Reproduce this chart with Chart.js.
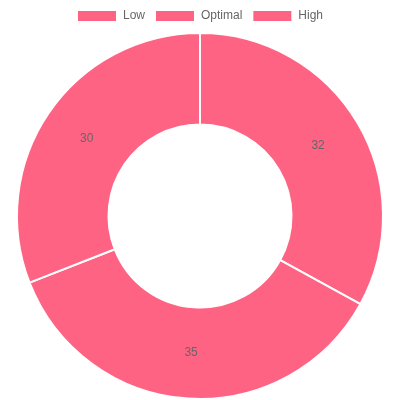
<!DOCTYPE html>
<html>
<head>
<meta charset="utf-8">
<script src="https://cdn.jsdelivr.net/npm/chart.js@4"></script>
<style>
  html, body { margin: 0; padding: 0; background: #fff; }
  #wrap { width: 400px; height: 400px; }
</style>
</head>
<body>
<div id="wrap"><canvas id="c"></canvas></div>
<script>
const categories = ['Low', 'Optimal', 'High'];
const values = [32, 35, 30];
const sliceColors = ['rgb(255, 99, 132)', 'rgb(255, 99, 132)', 'rgb(255, 99, 132)'];

// Writes each slice's value at the centre of its arc
const sliceValueLabels = {
  id: 'sliceValueLabels',
  afterDatasetsDraw(chart) {
    const ctx = chart.ctx;
    const meta = chart.getDatasetMeta(0);
    ctx.save();
    ctx.font = '12px "Liberation Sans", Arial, Helvetica, sans-serif';
    ctx.fillStyle = '#666';
    ctx.textAlign = 'center';
    ctx.textBaseline = 'middle';
    meta.data.forEach((arc, i) => {
      const p = arc.tooltipPosition();
      ctx.fillText(String(chart.data.datasets[0].data[i]), p.x, p.y);
    });
    ctx.restore();
  }
};

new Chart(document.getElementById('c'), {
  type: 'doughnut',
  data: {
    labels: categories,
    datasets: [{
      data: values,
      backgroundColor: sliceColors,
      borderColor: '#fff',
      borderWidth: 2
    }]
  },
  options: {
    responsive: true,
    maintainAspectRatio: false,
    animation: false,
    cutout: '50%',
    plugins: {
      legend: {
        position: 'top',
        labels: {
          color: '#666',
          font: { size: 12, family: '"Liberation Sans", Arial, Helvetica, sans-serif' }
        }
      },
      tooltip: { enabled: false }
    }
  },
  plugins: [sliceValueLabels]
});
</script>
</body>
</html>
